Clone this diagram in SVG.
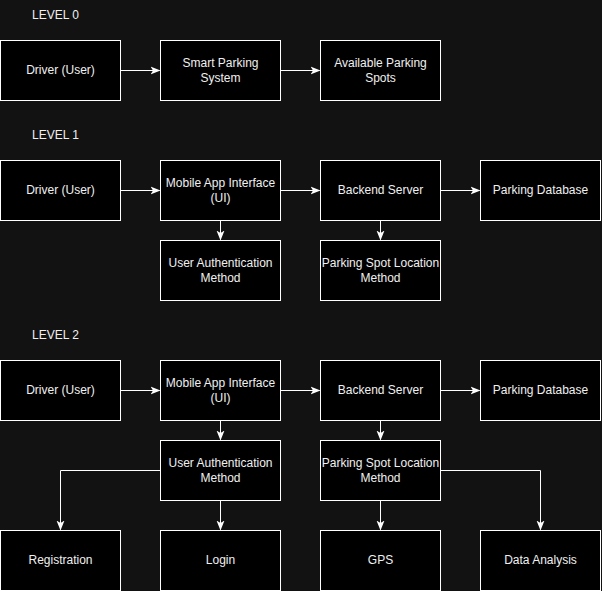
<svg xmlns="http://www.w3.org/2000/svg" width="602" height="591" viewBox="0 0 602 591">
<defs>
<style>
.bx{fill:#000;stroke:#fff;stroke-width:1}
.t{font-family:"Liberation Sans",Arial,sans-serif;font-size:12px;fill:#f0f0f0;text-anchor:middle}
.lv{font-family:"Liberation Sans",Arial,sans-serif;font-size:12px;fill:#f0f0f0}
.e{fill:none;stroke:#fff;stroke-width:1}
</style>
<marker id="ah" viewBox="0 0 10 10" refX="9" refY="5" markerWidth="10" markerHeight="10" markerUnits="userSpaceOnUse" orient="auto">
<path d="M0,1 L10,5 L0,9 L2.5,5 Z" fill="#fff"/>
</marker>
</defs>
<rect width="602" height="591" fill="#121212"/>
<text class="lv" x="32" y="19">LEVEL 0</text>
<text class="lv" x="32" y="139">LEVEL 1</text>
<text class="lv" x="32" y="339">LEVEL 2</text>
<g id="connectors">
<path class="e" d="M120.5,70.5 H159.5" marker-end="url(#ah)"/>
<path class="e" d="M280.5,70.5 H319.5" marker-end="url(#ah)"/>
<path class="e" d="M120.5,190.5 H159.5" marker-end="url(#ah)"/>
<path class="e" d="M280.5,190.5 H319.5" marker-end="url(#ah)"/>
<path class="e" d="M440.5,190.5 H479.5" marker-end="url(#ah)"/>
<path class="e" d="M220.5,220.5 V239.5" marker-end="url(#ah)"/>
<path class="e" d="M380.5,220.5 V239.5" marker-end="url(#ah)"/>
<path class="e" d="M120.5,390.5 H159.5" marker-end="url(#ah)"/>
<path class="e" d="M280.5,390.5 H319.5" marker-end="url(#ah)"/>
<path class="e" d="M440.5,390.5 H479.5" marker-end="url(#ah)"/>
<path class="e" d="M220.5,420.5 V439.5" marker-end="url(#ah)"/>
<path class="e" d="M380.5,420.5 V439.5" marker-end="url(#ah)"/>
<path class="e" d="M160.5,470.5 H60.5 V529.5" marker-end="url(#ah)"/>
<path class="e" d="M220.5,500.5 V529.5" marker-end="url(#ah)"/>
<path class="e" d="M380.5,500.5 V529.5" marker-end="url(#ah)"/>
<path class="e" d="M440.5,470.5 H540.5 V529.5" marker-end="url(#ah)"/>
</g>
<g id="l0-driver"><rect class="bx" x="0.5" y="40.5" width="120" height="60"/><text class="t" x="60.5" y="74">Driver (User)</text></g>
<g id="l0-system"><rect class="bx" x="160.5" y="40.5" width="120" height="60"/><text class="t" x="220.5" y="67">Smart Parking</text><text class="t" x="220.5" y="82">System</text></g>
<g id="l0-spots"><rect class="bx" x="320.5" y="40.5" width="120" height="60"/><text class="t" x="380.5" y="67">Available Parking</text><text class="t" x="380.5" y="82">Spots</text></g>

<g id="l1-driver"><rect class="bx" x="0.5" y="160.5" width="120" height="60"/><text class="t" x="60.5" y="194">Driver (User)</text></g>
<g id="l1-app"><rect class="bx" x="160.5" y="160.5" width="120" height="60"/><text class="t" x="220.5" y="187">Mobile App Interface</text><text class="t" x="220.5" y="202">(UI)</text></g>
<g id="l1-backend"><rect class="bx" x="320.5" y="160.5" width="120" height="60"/><text class="t" x="380.5" y="194">Backend Server</text></g>
<g id="l1-db"><rect class="bx" x="480.5" y="160.5" width="120" height="60"/><text class="t" x="540.5" y="194">Parking Database</text></g>
<g id="l1-auth"><rect class="bx" x="160.5" y="240.5" width="120" height="60"/><text class="t" x="220.5" y="267">User Authentication</text><text class="t" x="220.5" y="282">Method</text></g>
<g id="l1-loc"><rect class="bx" x="320.5" y="240.5" width="120" height="60"/><text class="t" x="380.5" y="267">Parking Spot Location</text><text class="t" x="380.5" y="282">Method</text></g>

<g id="l2-driver"><rect class="bx" x="0.5" y="360.5" width="120" height="60"/><text class="t" x="60.5" y="394">Driver (User)</text></g>
<g id="l2-app"><rect class="bx" x="160.5" y="360.5" width="120" height="60"/><text class="t" x="220.5" y="387">Mobile App Interface</text><text class="t" x="220.5" y="402">(UI)</text></g>
<g id="l2-backend"><rect class="bx" x="320.5" y="360.5" width="120" height="60"/><text class="t" x="380.5" y="394">Backend Server</text></g>
<g id="l2-db"><rect class="bx" x="480.5" y="360.5" width="120" height="60"/><text class="t" x="540.5" y="394">Parking Database</text></g>
<g id="l2-auth"><rect class="bx" x="160.5" y="440.5" width="120" height="60"/><text class="t" x="220.5" y="467">User Authentication</text><text class="t" x="220.5" y="482">Method</text></g>
<g id="l2-loc"><rect class="bx" x="320.5" y="440.5" width="120" height="60"/><text class="t" x="380.5" y="467">Parking Spot Location</text><text class="t" x="380.5" y="482">Method</text></g>
<g id="l2-reg"><rect class="bx" x="0.5" y="530.5" width="120" height="60"/><text class="t" x="60.5" y="564">Registration</text></g>
<g id="l2-login"><rect class="bx" x="160.5" y="530.5" width="120" height="60"/><text class="t" x="220.5" y="564">Login</text></g>
<g id="l2-gps"><rect class="bx" x="320.5" y="530.5" width="120" height="60"/><text class="t" x="380.5" y="564">GPS</text></g>
<g id="l2-data"><rect class="bx" x="480.5" y="530.5" width="120" height="60"/><text class="t" x="540.5" y="564">Data Analysis</text></g>
</svg>
